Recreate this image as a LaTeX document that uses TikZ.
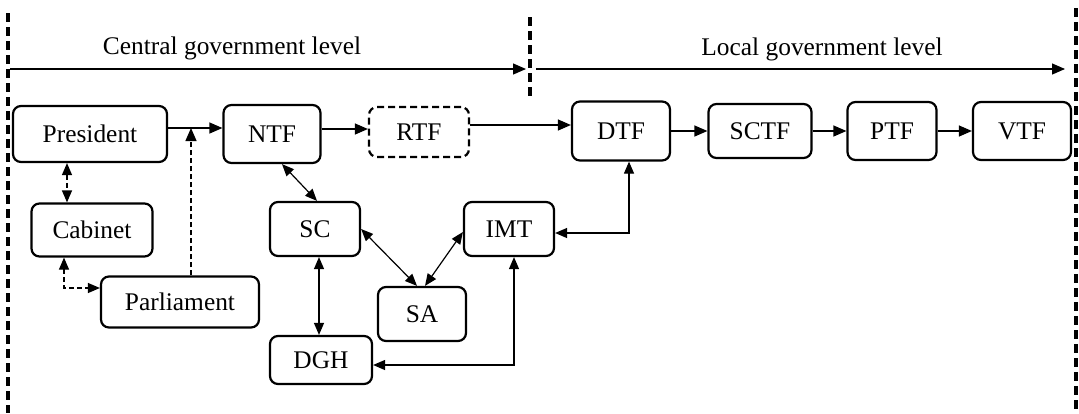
\documentclass[tikz,border=0pt]{standalone}
\usepackage{fontspec}
\setmainfont{Liberation Serif}
\usetikzlibrary{arrows.meta}

\tikzset{
  box/.style={draw,line width=1.1pt,rounded corners=4pt,inner sep=1pt},
  link/.style={line width=0.6pt,-{Triangle[length=6.5pt,width=5.5pt]}},
  both/.style={line width=0.6pt,{Triangle[length=6pt,width=5pt]}-{Triangle[length=6pt,width=5pt]}},
  dashlink/.style={dash pattern=on 2.5pt off 1.5pt},
  border/.style={line width=1.8pt,dash pattern=on 4.5pt off 2.5pt}
}

\begin{document}
\begin{tikzpicture}[x=0.5pt,y=-0.5pt,every node/.style={font=\fontsize{12.7}{15}\selectfont}]
   \useasboundingbox (0,0) rectangle (1079,413);

   %% Ebenen
   \draw[border] (8,13) -- (8,413);
   \draw[border] (530,17) -- (530,96);
   \draw[border] (1076,8) -- (1076,413);
   \node[anchor=base] (central) at (232,54) {Central government level};
   \node[anchor=base] (local) at (822,55) {Local government level};
   \coordinate (c0) at (10,69);
   \coordinate (c1) at (526,69);
   \coordinate (l0) at (536,69);
   \coordinate (l1) at (1065,69);
   \draw[link] (c0) -- (c1);
   \draw[link] (l0) -- (l1);

   %% Kaesten
   \node[box,minimum width=77pt,minimum height=28pt] (president) at (90,134) {President};
   \node[box,minimum width=48.5pt,minimum height=29pt] (ntf) at (272,134) {NTF};
   \node[box,dash pattern=on 3.5pt off 2pt,minimum width=50pt,minimum height=25pt] (rtf) at (419,132) {RTF};
   \node[box,minimum width=49pt,minimum height=29.5pt] (dtf) at (621,131) {DTF};
   \node[box,minimum width=51.5pt,minimum height=27pt] (sctf) at (760,131) {SCTF};
   \node[box,minimum width=44.5pt,minimum height=29pt] (ptf) at (892,131) {PTF};
   \node[box,minimum width=49pt,minimum height=29pt] (vtf) at (1022,131) {VTF};
   \node[box,minimum width=60.5pt,minimum height=26.5pt] (cabinet) at (92,230) {Cabinet};
   \node[box,minimum width=79pt,minimum height=25.5pt] (parliament) at (180,302) {Parliament};
   \node[box,minimum width=45pt,minimum height=27pt] (sc) at (315,229) {SC};
   \node[box,minimum width=45pt,minimum height=27pt] (imt) at (509,229) {IMT};
   \node[box,minimum width=44pt,minimum height=27pt] (sa) at (422,314) {SA};
   \node[box,minimum width=51pt,minimum height=24pt] (dgh) at (321,360) {DGH};

   %% Verbindungen oben
   \coordinate (pn) at ([yshift=3pt]president.east);
   \coordinate (pj) at (191,128);
   \coordinate (nr) at ([yshift=2.5pt]ntf.east);
   \coordinate (rd) at ([yshift=3.5pt]rtf.east);
   \draw[link] (pn) -- (pn -| ntf.west);
   \draw[link,dashlink] (parliament.north -| pj) -- (pj);
   \draw[link] (nr) -- (nr -| rtf.west);
   \draw[link] (rd) -- (rd -| dtf.west);
   \draw[link] (dtf.east) -- (dtf.east -| sctf.west);
   \draw[link] (sctf.east) -- (sctf.east -| ptf.west);
   \draw[link] (ptf.east) -- (ptf.east -| vtf.west);

   %% Verbindungen unten
   \coordinate (pc) at ([xshift=-11.5pt]president.south);
   \coordinate (sd) at ([xshift=2pt]sc.south);
   \draw[both,dashlink] (pc) -- (pc |- cabinet.north);
   \draw[both,dashlink] ([xshift=-14pt]cabinet.south) |- ([yshift=7pt]parliament.west);
   \draw[both] ([xshift=5pt]ntf.south) -- ([xshift=1pt]sc.north);
   \draw[both] (sc.east) -- ([xshift=-2.5pt]sa.north);
   \draw[both] ([yshift=-1.5pt]imt.west) -- ([xshift=1.5pt]sa.north);
   \draw[both] (sd) -- (sd |- dgh.north);
   \draw[both] ([xshift=2.5pt]imt.south) |- ([yshift=-2.5pt]dgh.east);
   \draw[both] ([yshift=-2pt]imt.east) -| ([xshift=4pt]dtf.south);
\end{tikzpicture}
\end{document}
